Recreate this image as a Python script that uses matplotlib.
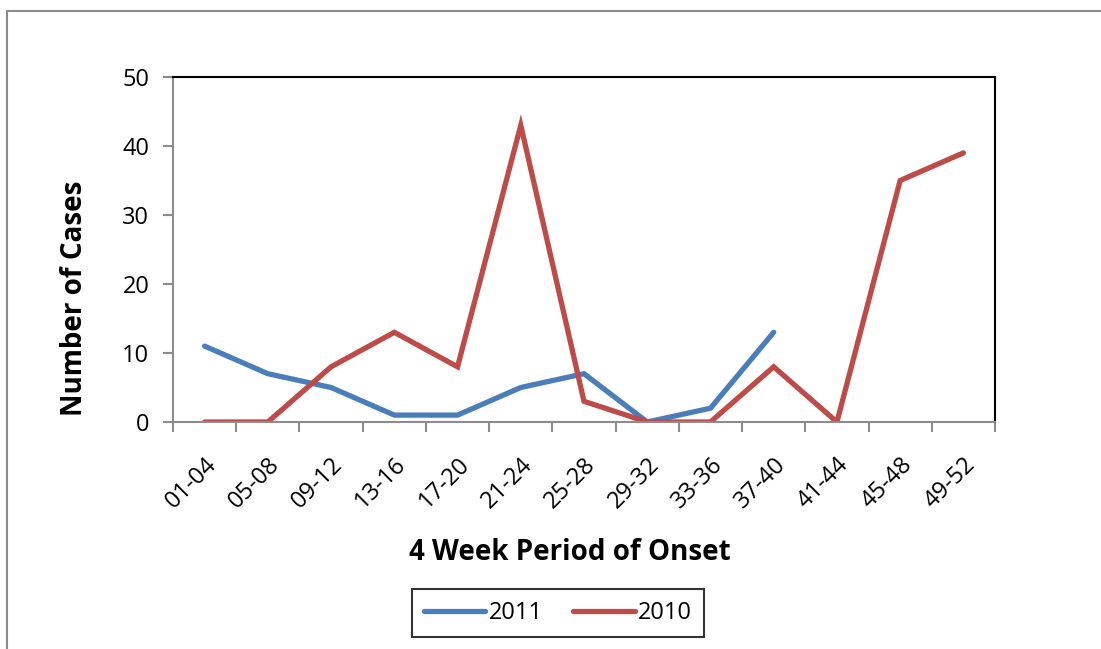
import matplotlib
matplotlib.use("Agg")
import matplotlib.pyplot as plt
from matplotlib.patches import Rectangle

periods = ["01-04", "05-08", "09-12", "13-16", "17-20", "21-24", "25-28",
           "29-32", "33-36", "37-40", "41-44", "45-48", "49-52"]
cases_2011 = [11, 7, 5, 1, 1, 5, 7, 0, 2, 13]
cases_2010 = [0, 0, 8, 13, 8, 43, 3, 0, 0, 8, 0, 35, 39]

plt.rcParams['font.family'] = ['Open Sans', 'DejaVu Sans']

W, H = 1101, 649
fig = plt.figure(figsize=(W / 100, H / 100), dpi=100)
ax = fig.add_axes([173 / W, 1 - 422 / H, (995 - 173) / W, (422 - 77) / H])

# outer chart border
fig.patches.append(Rectangle((7 / W, -0.1), 1.2, (1 - 11 / H) + 0.1,
                             transform=fig.transFigure, fill=False,
                             edgecolor='#8c8c8c', linewidth=1.5))

x11 = [i + 0.5 for i in range(len(cases_2011))]
x10 = [i + 0.5 for i in range(len(cases_2010))]
l1, = ax.plot(x11, cases_2011, color='#4a7ebb', linewidth=3.8, label='2011',
              solid_capstyle='round', solid_joinstyle='miter')
l2, = ax.plot(x10, cases_2010, color='#be4b48', linewidth=3.8, label='2010',
              solid_capstyle='round', solid_joinstyle='miter')

ax.set_xlim(0, len(periods))
ax.set_ylim(0, 50)
ax.set_yticks(range(0, 51, 10))
ax.set_xticks(range(len(periods) + 1))
ax.set_xticklabels([])
ax.set_xticks(x10, minor=True)
ax.set_xticklabels(periods, minor=True, rotation=45, ha='right',
                   rotation_mode='anchor', fontsize=17)
ax.tick_params(axis='x', which='minor', length=0, pad=22)
ax.tick_params(axis='x', which='major', length=7, width=1.5, color='#8c8c8c')
ax.tick_params(axis='y', length=7, width=1.5, color='#8c8c8c', labelsize=17, pad=10)

for s in ['left', 'bottom']:
    ax.spines[s].set_color('#8c8c8c')
    ax.spines[s].set_linewidth(1.5)
for s in ['top', 'right']:
    ax.spines[s].set_color('black')
    ax.spines[s].set_linewidth(1.5)

fig.text(75 / W, 1 - 298 / H, 'Number of Cases', fontsize=20, fontweight='bold',
         rotation=90, ha='center', va='center')
fig.text(570 / W, 1 - 552 / H, '4 Week Period of Onset', fontsize=20,
         fontweight='bold', ha='center', va='center')

leg = fig.legend(handles=[l1, l2], loc='center', bbox_to_anchor=(558 / W, 1 - 613 / H),
                 ncol=2, frameon=True, fancybox=False, fontsize=17,
                 handlelength=2.6, handletextpad=0.15, columnspacing=1.3,
                 borderpad=0.5, borderaxespad=0.0)
leg.get_frame().set_edgecolor('black')
leg.get_frame().set_linewidth(1.5)

fig.savefig('out.png', dpi=100)
